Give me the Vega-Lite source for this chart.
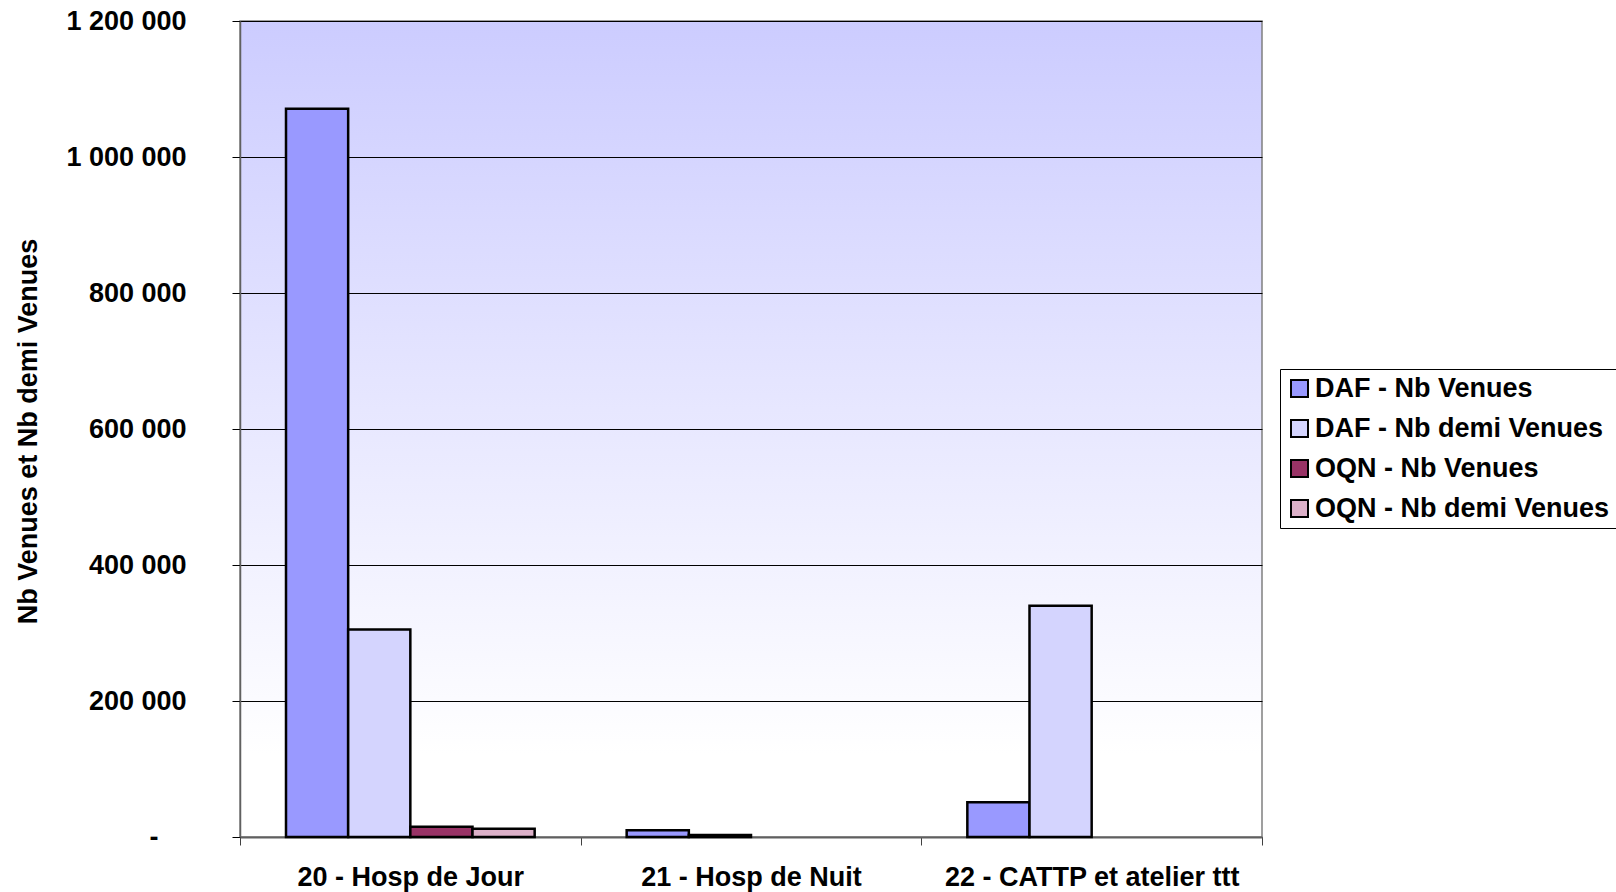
{
  "$schema": "https://vega.github.io/schema/vega-lite/v6.json",
  "width": 1022,
  "height": 816,
  "autosize": "none",
  "padding": {"left": 240, "top": 21, "right": 354, "bottom": 55},
  "background": "white",
  "view": {
    "stroke": "#808080",
    "strokeWidth": 1.5,
    "fill": {
      "gradient": "linear",
      "x1": 0, "y1": 0, "x2": 0, "y2": 1,
      "stops": [
        {"offset": 0, "color": "#ccccff"},
        {"offset": 0.9, "color": "#ffffff"}
      ]
    }
  },
  "data": {
    "values": [
      {"categorie": "20 - Hosp de Jour", "serie": "DAF - Nb Venues", "valeur": 1071000},
      {"categorie": "20 - Hosp de Jour", "serie": "DAF - Nb demi Venues", "valeur": 305000},
      {"categorie": "20 - Hosp de Jour", "serie": "OQN - Nb Venues", "valeur": 15000},
      {"categorie": "20 - Hosp de Jour", "serie": "OQN - Nb demi Venues", "valeur": 12000},
      {"categorie": "21 - Hosp de Nuit", "serie": "DAF - Nb Venues", "valeur": 10000},
      {"categorie": "21 - Hosp de Nuit", "serie": "DAF - Nb demi Venues", "valeur": 3000},
      {"categorie": "22 - CATTP et atelier ttt", "serie": "DAF - Nb Venues", "valeur": 51000},
      {"categorie": "22 - CATTP et atelier ttt", "serie": "DAF - Nb demi Venues", "valeur": 340000}
    ]
  },
  "mark": {"type": "bar", "stroke": "black", "strokeWidth": 2.5},
  "encoding": {
    "x": {
      "field": "categorie",
      "type": "nominal",
      "sort": ["20 - Hosp de Jour", "21 - Hosp de Nuit", "22 - CATTP et atelier ttt"],
      "scale": {"paddingInner": 0, "paddingOuter": 0},
      "axis": {
        "title": null,
        "labelAngle": 0,
        "labelFont": "Liberation Sans",
        "labelFontWeight": "bold",
        "labelFontSize": 27,
        "labelColor": "black",
        "labelPadding": 19,
        "labelLimit": 600,
        "tickBand": "extent",
        "tickSize": 8,
        "tickColor": "#404040",
        "domainColor": "#606060",
        "domainWidth": 2
      }
    },
    "xOffset": {
      "field": "serie",
      "type": "nominal",
      "sort": ["DAF - Nb Venues", "DAF - Nb demi Venues", "OQN - Nb Venues", "OQN - Nb demi Venues"],
      "scale": {
        "domain": ["DAF - Nb Venues", "DAF - Nb demi Venues", "OQN - Nb Venues", "OQN - Nb demi Venues"],
        "paddingInner": 0,
        "paddingOuter": 0.74
      }
    },
    "y": {
      "field": "valeur",
      "type": "quantitative",
      "scale": {"domain": [0, 1200000], "nice": false},
      "axis": {
        "title": "Nb Venues et Nb demi Venues",
        "titleFont": "Liberation Sans",
        "titleFontWeight": "bold",
        "titleFontSize": 27,
        "titleColor": "black",
        "titleAngle": -90,
        "titleX": -212,
        "titleY": 410,
        "titleAlign": "center",
        "titleBaseline": "middle",
        "values": [0, 200000, 400000, 600000, 800000, 1000000, 1200000],
        "labelExpr": "datum.value == 0 ? '-' : replace(format(datum.value, ','), regexp(',', 'g'), '\u00a0')",
        "labelFont": "Liberation Sans",
        "labelFontWeight": "bold",
        "labelFontSize": 27,
        "labelColor": "black",
        "labelPadding": {"condition": {"test": "datum.value === 0", "value": 74}, "value": 46},
        "tickSize": 8,
        "tickColor": "black",
        "domainColor": "#606060",
        "domainWidth": 1.5,
        "grid": true,
        "gridColor": "black",
        "gridWidth": 1
      }
    },
    "color": {
      "field": "serie",
      "type": "nominal",
      "scale": {
        "domain": ["DAF - Nb Venues", "DAF - Nb demi Venues", "OQN - Nb Venues", "OQN - Nb demi Venues"],
        "range": ["#9999ff", "#d4d4fe", "#993366", "#dcb0c8"]
      },
      "legend": {
        "title": null,
        "orient": "none",
        "legendX": 1040,
        "legendY": 348,
        "strokeColor": "black",
        "fillColor": "white",
        "padding": 6,
        "labelFont": "Liberation Sans",
        "labelFontWeight": "bold",
        "labelFontSize": 27,
        "labelColor": "black",
        "labelLimit": 400,
        "labelOffset": 2,
        "rowPadding": 12,
        "symbolType": "square",
        "symbolSize": 289,
        "symbolStrokeColor": "black",
        "symbolStrokeWidth": 2,
        "symbolOpacity": 1
      }
    }
  }
}
